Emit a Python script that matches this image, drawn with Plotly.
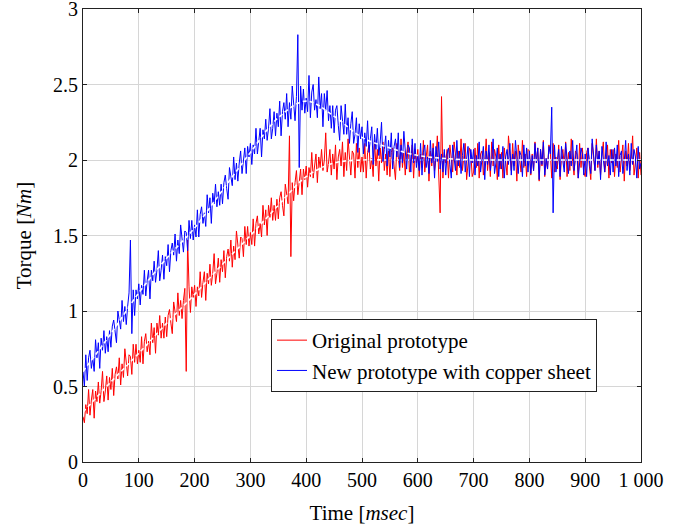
import plotly.graph_objects as go

# Sample times (ms), every 2.5 ms
time_ms = [i * 2.5 for i in range(401)]

red_torque = [
    0.30, 0.26, 0.38, 0.32, 0.48, 0.31, 0.41, 0.48, 0.29, 0.47, 0.40, 0.53, 0.39, 0.47, 0.60, 0.40, 0.47, 0.57, 0.41, 0.56,
    0.48, 0.62, 0.44, 0.58, 0.63, 0.55, 0.69, 0.51, 0.65, 0.56, 0.75, 0.63, 0.57, 0.71, 0.70, 0.58, 0.78, 0.66, 0.78, 0.65,
    0.74, 0.66, 0.83, 0.65, 0.80, 0.85, 0.73, 0.80, 0.71, 0.92, 0.79, 0.89, 0.72, 0.92, 0.84, 0.97, 0.82, 0.92, 0.82, 0.96,
    0.83, 0.97, 1.01, 0.92, 0.85, 1.06, 0.99, 0.93, 1.12, 0.97, 1.07, 0.95, 1.07, 1.15, 0.60, 1.47, 1.16, 0.99, 1.16, 1.09,
    1.17, 1.03, 1.16, 1.10, 1.26, 1.09, 1.19, 1.26, 1.07, 1.25, 1.18, 1.31, 1.17, 1.25, 1.38, 1.18, 1.25, 1.35, 1.19, 1.34,
    1.26, 1.40, 1.22, 1.36, 1.41, 1.33, 1.47, 1.29, 1.43, 1.34, 1.53, 1.41, 1.35, 1.49, 1.48, 1.36, 1.56, 1.44, 1.56, 1.43,
    1.52, 1.44, 1.61, 1.43, 1.58, 1.63, 1.51, 1.58, 1.49, 1.70, 1.57, 1.67, 1.50, 1.70, 1.62, 1.75, 1.60, 1.70, 1.60, 1.74,
    1.61, 1.75, 1.79, 1.70, 1.63, 1.84, 1.77, 1.71, 2.16, 1.36, 1.85, 1.73, 1.85, 1.93, 1.77, 1.84, 1.94, 1.77, 1.94, 1.87,
    1.96, 1.82, 1.95, 1.89, 2.05, 1.88, 1.98, 2.04, 1.85, 2.02, 1.95, 2.07, 1.93, 2.00, 2.18, 1.92, 1.98, 2.07, 1.90, 2.04,
    1.94, 2.10, 1.87, 2.02, 2.07, 1.96, 2.12, 1.89, 2.05, 1.93, 2.14, 1.99, 1.90, 2.06, 2.04, 1.88, 2.11, 1.95, 2.08, 1.92,
    2.02, 1.92, 2.11, 1.88, 2.05, 2.10, 1.94, 2.01, 1.89, 2.13, 1.96, 2.07, 1.86, 2.08, 1.98, 2.12, 1.93, 2.04, 1.90, 2.06,
    1.89, 2.05, 2.08, 1.96, 1.87, 2.11, 2.01, 1.93, 2.14, 1.95, 2.06, 1.90, 2.04, 2.12, 1.92, 1.99, 2.10, 1.88, 2.07, 1.98,
    2.07, 1.89, 2.04, 1.95, 2.13, 1.92, 2.02, 2.10, 1.86, 2.06, 1.96, 2.11, 1.93, 2.01, 2.16, 1.90, 1.65, 2.42, 1.88, 2.05,
    1.98, 2.07, 1.88, 2.10, 1.99, 1.92, 2.12, 2.04, 1.90, 2.06, 1.95, 2.14, 1.93, 2.01, 2.11, 1.87, 1.96, 2.08, 2.05, 1.89,
    1.92, 2.08, 1.95, 2.11, 1.88, 2.04, 2.06, 1.90, 1.99, 2.14, 1.93, 2.05, 1.89, 2.12, 1.96, 2.07, 2.02, 1.87, 2.10, 1.94,
    2.05, 1.88, 2.08, 1.98, 1.90, 2.16, 2.01, 1.93, 2.11, 1.96, 2.06, 1.86, 2.10, 2.02, 1.92, 2.13, 1.95, 2.04, 1.89, 2.07,
    2.06, 1.90, 2.04, 1.93, 2.12, 1.98, 2.08, 1.86, 2.07, 1.96, 2.13, 1.89, 2.01, 1.94, 2.10, 2.05, 1.88, 2.11, 1.92, 2.02,
    1.94, 2.10, 1.87, 2.02, 2.07, 1.96, 2.12, 1.89, 2.05, 1.93, 2.14, 1.99, 1.90, 2.06, 2.04, 1.88, 2.11, 1.95, 2.08, 1.92,
    1.89, 2.05, 2.08, 1.96, 1.87, 2.11, 2.01, 1.93, 2.14, 1.95, 2.06, 1.90, 2.04, 2.12, 1.92, 1.99, 2.10, 1.88, 2.07, 1.98,
    2.07, 1.89, 2.04, 1.95, 2.13, 1.92, 2.02, 2.10, 1.86, 2.06, 1.96, 2.11, 1.93, 2.01, 2.16, 1.90, 1.98, 2.08, 1.88, 2.05,
    1.90,
]

blue_torque = [
    0.60, 0.50, 0.71, 0.54, 0.69, 0.74, 0.62, 0.69, 0.60, 0.81, 0.69, 0.79, 0.62, 0.82, 0.74, 0.87, 0.72, 0.83, 0.73, 0.87,
    0.76, 0.90, 0.94, 0.86, 0.79, 1.00, 0.94, 0.88, 1.07, 0.93, 1.03, 0.91, 1.03, 1.12, 1.47, 0.85, 1.14, 0.97, 1.14, 1.08,
    1.18, 1.04, 1.17, 1.11, 1.27, 1.10, 1.20, 1.27, 1.08, 1.27, 1.20, 1.33, 1.19, 1.27, 1.40, 1.20, 1.27, 1.37, 1.21, 1.36,
    1.30, 1.44, 1.26, 1.40, 1.45, 1.37, 1.51, 1.33, 1.47, 1.38, 1.57, 1.45, 1.39, 1.53, 1.52, 1.40, 1.60, 1.48, 1.60, 1.47,
    1.57, 1.49, 1.67, 1.49, 1.64, 1.69, 1.58, 1.65, 1.56, 1.77, 1.65, 1.75, 1.58, 1.78, 1.71, 1.84, 1.69, 1.79, 1.70, 1.84,
    1.71, 1.85, 1.90, 1.81, 1.74, 1.95, 1.89, 1.83, 2.02, 1.87, 1.98, 1.86, 1.98, 2.06, 1.91, 1.98, 2.08, 1.91, 2.09, 2.02,
    2.11, 1.97, 2.10, 2.04, 2.21, 2.04, 2.14, 2.21, 2.02, 2.20, 2.14, 2.27, 2.13, 2.21, 2.34, 2.14, 2.21, 2.32, 2.16, 2.31,
    2.22, 2.39, 2.16, 2.32, 2.38, 2.27, 2.44, 2.22, 2.38, 2.27, 2.49, 2.34, 2.26, 2.42, 2.83, 1.95, 2.49, 2.33, 2.47, 2.31,
    2.41, 2.32, 2.56, 2.28, 2.45, 2.50, 2.33, 2.40, 2.28, 2.55, 2.34, 2.44, 2.22, 2.44, 2.33, 2.46, 2.26, 2.36, 2.21, 2.36,
    2.18, 2.33, 2.36, 2.23, 2.13, 2.36, 2.26, 2.17, 2.37, 2.17, 2.28, 2.11, 2.24, 2.32, 2.11, 2.17, 2.28, 2.05, 2.24, 2.14,
    2.22, 2.04, 2.18, 2.09, 2.26, 2.05, 2.14, 2.22, 1.97, 2.17, 2.07, 2.21, 2.03, 2.11, 2.25, 1.99, 2.07, 2.16, 1.96, 2.13,
    2.02, 2.18, 1.94, 2.09, 2.14, 2.02, 2.18, 1.95, 2.10, 1.98, 2.19, 2.04, 1.94, 2.10, 2.08, 1.92, 2.14, 1.98, 2.11, 1.95,
    2.03, 1.93, 2.11, 1.90, 2.05, 2.10, 1.95, 2.02, 1.91, 2.13, 1.98, 2.08, 1.88, 2.09, 1.99, 2.12, 1.94, 2.04, 1.92, 2.07,
    1.90, 2.04, 2.08, 1.97, 1.88, 2.10, 2.01, 1.93, 2.13, 1.96, 2.06, 1.91, 2.03, 2.11, 1.92, 1.99, 2.09, 1.89, 2.07, 1.98,
    2.07, 1.90, 2.03, 1.96, 2.12, 1.92, 2.02, 2.09, 1.87, 2.06, 1.97, 2.10, 1.93, 2.01, 2.14, 1.91, 1.98, 2.08, 1.89, 2.04,
    1.94, 2.09, 1.88, 2.02, 2.07, 1.97, 2.11, 1.90, 2.04, 1.93, 2.13, 1.99, 1.91, 2.06, 2.03, 1.89, 2.10, 1.96, 2.08, 1.92,
    2.06, 1.91, 2.03, 1.93, 2.11, 1.98, 2.08, 1.87, 2.07, 1.97, 2.12, 1.90, 2.01, 1.94, 2.09, 2.04, 2.35, 1.65, 2.10, 1.92,
    1.98, 2.07, 1.89, 2.09, 1.99, 1.92, 2.11, 2.03, 1.91, 2.06, 1.96, 2.13, 1.93, 2.01, 2.10, 1.88, 1.97, 2.08, 2.04, 1.90,
    2.04, 1.89, 2.08, 1.98, 1.91, 2.14, 2.01, 1.93, 2.10, 1.97, 2.06, 1.87, 2.09, 2.02, 1.92, 2.12, 1.96, 2.03, 1.90, 2.07,
    1.92, 2.08, 1.96, 2.10, 1.89, 2.03, 2.06, 1.91, 1.99, 2.13, 1.93, 2.04, 1.90, 2.11, 1.97, 2.07, 2.02, 1.88, 2.09, 1.94,
    1.98,
]

# Smoothed (white dashed) trends
trend_time = [0, 50, 100, 150, 200, 250, 300, 350, 400, 450, 500, 550,
              600, 650, 700, 750, 800, 850, 900, 950, 1000]
red_trend = [0.33, 0.53, 0.72, 0.92, 1.11, 1.31, 1.50, 1.70, 1.89, 1.98, 2.00, 2.00,
             2.00, 2.00, 2.00, 2.00, 2.00, 2.00, 2.00, 2.00, 2.00]
blue_trend = [0.60, 0.85, 1.12, 1.35, 1.55, 1.80, 2.05, 2.28, 2.39, 2.29, 2.15, 2.08,
              2.03, 2.01, 2.00, 2.00, 2.00, 2.00, 2.00, 2.00, 2.00]

x_ticks = [0, 100, 200, 300, 400, 500, 600, 700, 800, 900, 1000]
x_tick_text = ["0", "100", "200", "300", "400", "500", "600", "700", "800", "900", "1 000"]
y_ticks = [0, 0.5, 1, 1.5, 2, 2.5, 3]
y_tick_text = ["0", "0.5", "1", "1.5", "2", "2.5", "3"]

FONT = "Liberation Serif"

fig = go.Figure()
fig.add_trace(go.Scatter(x=time_ms, y=red_torque, mode="lines",
                         line=dict(color="#ff0000", width=1),
                         name="Original prototype"))
fig.add_trace(go.Scatter(x=trend_time, y=red_trend, mode="lines",
                         line=dict(color="white", width=1.6, dash="4px,3px", shape="spline"),
                         showlegend=False, hoverinfo="skip"))
fig.add_trace(go.Scatter(x=time_ms, y=blue_torque, mode="lines",
                         line=dict(color="#0000ff", width=1),
                         name="New prototype with copper sheet"))
fig.add_trace(go.Scatter(x=trend_time, y=blue_trend, mode="lines",
                         line=dict(color="white", width=1.6, dash="4px,3px", shape="spline"),
                         showlegend=False, hoverinfo="skip"))

axis_common = dict(
    showline=True, linecolor="#222222", linewidth=1, mirror="ticks",
    ticks="inside", ticklen=4, tickcolor="#222222",
    showgrid=True, gridcolor="#d6d6d6", gridwidth=1, zeroline=False,
    tickfont=dict(family=FONT, size=20, color="black"),
    automargin=False, ticklabeloverflow="allow",
)

fig.update_layout(
    width=686, height=527,
    margin=dict(l=83, r=45, t=9, b=65),
    paper_bgcolor="white", plot_bgcolor="white",
    font=dict(family=FONT, size=20, color="black"),
    xaxis=dict(range=[0, 1000], tickvals=x_ticks, ticktext=x_tick_text,
               title=dict(text="Time [<i>msec</i>]", font=dict(family=FONT, size=21)),
               **axis_common),
    yaxis=dict(range=[0, 3], tickvals=y_ticks, ticktext=y_tick_text,
               title=dict(text="Torque [<i>Nm</i>]", font=dict(family=FONT, size=21)),
               **axis_common),
    legend=dict(x=(271 - 83) / 558, y=(462 - 319) / 453, xanchor="left", yanchor="top",
                bordercolor="#222222", borderwidth=1, bgcolor="white",
                font=dict(family=FONT, size=21), tracegroupgap=0,
                itemwidth=30),
    showlegend=True,
)

fig.write_html("out.html", config={"displayModeBar": False},
               post_script="document.body.style.margin='0';")
